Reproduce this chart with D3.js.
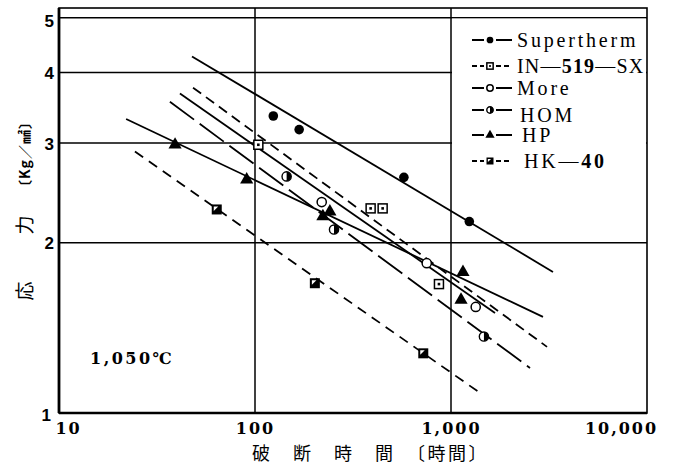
<!DOCTYPE html>
<html>
<head>
<meta charset="utf-8">
<script src="https://cdn.jsdelivr.net/npm/d3@7"></script>
<style>
  body { margin: 0; background: #fff; }
  svg { display: block; }
</style>
</head>
<body>
<svg width="674" height="468"></svg>
<script>
// rupture stress vs rupture time, 1,050 C
var xTickVals = [10, 100, 1000, 10000];
var xTickText = ['10', '100', '1,000', '10,000'];
var yTickVals = [1, 2, 3, 4, 5];

var seriesNames = ['Supertherm', 'IN—519—SX', 'More', 'HOM', 'HP', 'HK—40'];

// measured points [hours, kg/mm2]
var superthermPts = [[124, 3.35], [168, 3.17], [575, 2.61], [1240, 2.18]];
var in519Pts = [[104, 2.98], [389, 2.30], [448, 2.30], [868, 1.69]];
var morePts = [[219, 2.36], [752, 1.84], [1337, 1.54]];
var homPts = [[145, 2.62], [253, 2.11], [1472, 1.365]];
var hpPts = [[39.1, 2.98], [90.7, 2.585], [222, 2.226], [241, 2.27], [1151, 1.774], [1125, 1.585]];
var hk40Pts = [[63.8, 2.29], [202, 1.696], [722, 1.275]];

// fitted lines, end points
var superthermFit = [[47.7, 4.27], [3314, 1.776]];
var in519Fit = [[48.3, 3.76], [3090, 1.309]];
var moreFit = [[41.4, 3.67], [1677, 1.503]];
var homFit = [[36.8, 3.55], [2530, 1.201]];
var hpFit = [[22.0, 3.31], [2946, 1.479]];
var hk40Fit = [[24.4, 2.90], [1456, 1.076]];

var svg = d3.select('svg');
svg.append('rect').attr('width', 674).attr('height', 468).attr('fill', '#fff');

var x = d3.scaleLog().domain([10, 10000]).range([59, 647]);
var y = d3.scaleLog().domain([1, 5.2]).range([413, 8]);

var series = [
  { name: seriesNames[0], pts: superthermPts, fit: superthermFit, dash: null, legDash: null, mark: 'dot' },
  { name: seriesNames[1], pts: in519Pts, fit: in519Fit, dash: '10,6', legDash: '5,3', mark: 'sq' },
  { name: seriesNames[2], pts: morePts, fit: moreFit, dash: null, legDash: null, mark: 'ring' },
  { name: seriesNames[3], pts: homPts, fit: homFit, dash: '30,7', legDash: null, mark: 'half' },
  { name: seriesNames[4], pts: hpPts, fit: hpFit, dash: null, legDash: null, mark: 'tri' },
  { name: seriesNames[5], pts: hk40Pts, fit: hk40Fit, dash: '10,7', legDash: '5,3', mark: 'hk' }
];

// grid
var grid = svg.append('g').attr('stroke', '#000').attr('stroke-width', 1.5);
[100, 1000].forEach(function(v) {
  grid.append('line').attr('x1', x(v)).attr('x2', x(v)).attr('y1', y.range()[1]).attr('y2', y.range()[0]);
});
yTickVals.slice(1).forEach(function(v) {
  grid.append('line').attr('x1', x.range()[0]).attr('x2', x.range()[1]).attr('y1', y(v)).attr('y2', y(v));
});
// legend panel hides the grid inside it
svg.append('rect')
  .attr('x', x(1000) + 1).attr('y', y(5) + 1)
  .attr('width', x(10000) - x(1000) - 2).attr('height', y(2) - y(5) - 2)
  .attr('fill', '#fff');

// frame
svg.append('rect')
  .attr('x', x.range()[0]).attr('y', y.range()[1])
  .attr('width', x.range()[1] - x.range()[0]).attr('height', y.range()[0] - y.range()[1])
  .attr('fill', 'none').attr('stroke', '#000').attr('stroke-width', 1.6);
svg.append('line').attr('x1', x.range()[0]).attr('x2', x.range()[0])
  .attr('y1', y.range()[1]).attr('y2', y.range()[0]).attr('stroke', '#000').attr('stroke-width', 2.8);
svg.append('line').attr('x1', x.range()[0]).attr('x2', x.range()[1])
  .attr('y1', y.range()[0]).attr('y2', y.range()[0]).attr('stroke', '#000').attr('stroke-width', 2.4);

// fit lines
var line = d3.line().x(function(d) { return x(d[0]); }).y(function(d) { return y(d[1]); });
series.forEach(function(s) {
  svg.append('path').datum(s.fit)
    .attr('d', line)
    .attr('fill', 'none').attr('stroke', '#000').attr('stroke-width', 1.8)
    .attr('stroke-dasharray', s.dash);
});

function drawMark(g, type, k) {
  if (type === 'dot') {
    g.append('circle').attr('r', 4.8 * k).attr('fill', '#000');
  } else if (type === 'sq') {
    g.append('rect').attr('x', -4.5 * k).attr('y', -4.5 * k).attr('width', 9 * k).attr('height', 9 * k)
      .attr('fill', '#fff').attr('stroke', '#000').attr('stroke-width', 1.5);
    g.append('rect').attr('x', -1.3 * k).attr('y', -1.3 * k).attr('width', 2.6 * k).attr('height', 2.6 * k).attr('fill', '#000');
  } else if (type === 'ring') {
    g.append('circle').attr('r', 4.6 * k).attr('fill', '#fff').attr('stroke', '#000').attr('stroke-width', 1.5);
  } else if (type === 'half') {
    var r = 4.6 * k;
    g.append('circle').attr('r', r).attr('fill', '#fff').attr('stroke', '#000').attr('stroke-width', 1.4);
    g.append('path').attr('d', 'M0,' + (-r) + 'A' + r + ',' + r + ' 0 0,1 0,' + r + 'Z').attr('fill', '#000');
  } else if (type === 'tri') {
    g.append('path').attr('d', d3.symbol().type(d3.symbolTriangle).size(75 * k * k)).attr('fill', '#000');
  } else if (type === 'hk') {
    g.append('rect').attr('x', -5 * k).attr('y', -5 * k).attr('width', 10 * k).attr('height', 10 * k).attr('fill', '#000');
    g.append('path').attr('d', 'M' + (-3 * k) + ',' + (-3 * k) + 'L' + (1.5 * k) + ',' + (-3 * k) + 'L' + (-3 * k) + ',' + (1.5 * k) + 'Z')
      .attr('fill', '#fff');
  }
}

series.forEach(function(s) {
  s.pts.forEach(function(p) {
    var g = svg.append('g').attr('transform', 'translate(' + x(p[0]) + ',' + y(p[1]) + ')');
    drawMark(g, s.mark, 1);
  });
});

// axes (labels only)
var xAxis = svg.append('g')
  .attr('transform', 'translate(0,' + (y.range()[0] + 8) + ')')
  .call(d3.axisBottom(x).tickValues(xTickVals).tickSize(0).tickPadding(2)
    .tickFormat(function(d, i) { return xTickText[i]; }));
xAxis.select('.domain').remove();
xAxis.selectAll('text')
  .attr('font-family', '"DejaVu Serif", serif').attr('font-size', 16).attr('font-weight', 'bold')
  .attr('letter-spacing', 2).attr('fill', '#000')
  .attr('dx', function(d, i) { return i === 0 ? 9 : (i === 3 ? -26 : 0); });

var yAxis = svg.append('g')
  .attr('transform', 'translate(' + x.range()[0] + ',0)')
  .call(d3.axisLeft(y).tickValues(yTickVals).tickSize(0).tickPadding(5)
    .tickFormat(d3.format('d')));
yAxis.select('.domain').remove();
yAxis.selectAll('text')
  .attr('font-family', '"Liberation Sans", sans-serif').attr('font-size', 17).attr('font-weight', 'bold')
  .attr('fill', '#000')
  .attr('dx', function(d) { return d === 1 ? -3 : 0; })
  .attr('dy', function(d) { return d === 1 ? '0.45em' : (d === 5 ? '0.55em' : '0.35em'); });

// axis titles
svg.append('text')
  .attr('x', 252).attr('y', 460)
  .attr('font-family', '"Noto Sans CJK JP", sans-serif').attr('font-size', 18)
  .attr('letter-spacing', 2.5)
  .text('破　断　時　間　〔時間〕');

function vtext(cx, cy, str, size, weight, spacing) {
  svg.append('text')
    .attr('transform', 'translate(' + cx + ',' + cy + ') rotate(-90)')
    .attr('text-anchor', 'middle').attr('dy', '0.35em')
    .attr('font-family', '"Noto Sans CJK JP", sans-serif')
    .attr('font-size', size).attr('font-weight', weight)
    .attr('letter-spacing', spacing)
    .text(str);
}
vtext(25, 291, '応', 19, 'normal', 0);
vtext(25, 225, '力', 19, 'normal', 0);
vtext(25, 154, '〔Kg／㎟〕', 14, 'bold', 1);

svg.append('text')
  .attr('x', 90).attr('y', 364)
  .attr('font-family', '"DejaVu Serif", serif').attr('font-size', 16).attr('font-weight', 'bold')
  .attr('letter-spacing', 2.5)
  .text('1,050℃');

// legend
var leg = svg.append('g');
var legY = [40, 66, 88, 110, 135, 161];
var labelDy = [0, 0, 0, 5, 0, 0];
var labelDx = [0, 0, 0, 3, 5, 7];
var labelSpacing = [2.8, 1.2, 2.8, 2.8, 2.8, 2.8];
series.forEach(function(s, i) {
  var g = leg.append('g').attr('transform', 'translate(472,' + legY[i] + ')');
  g.append('line').attr('x1', 0).attr('x2', 12).attr('stroke', '#000').attr('stroke-width', 2)
    .attr('stroke-dasharray', s.legDash);
  g.append('line').attr('x1', 24).attr('x2', 40).attr('stroke', '#000').attr('stroke-width', 2)
    .attr('stroke-dasharray', s.legDash);
  var m = g.append('g').attr('transform', 'translate(18,0)');
  drawMark(m, s.mark, 0.7);
  var t = g.append('text')
    .attr('x', 45 + labelDx[i]).attr('y', labelDy[i]).attr('dy', '0.35em')
    .attr('font-family', '"Liberation Serif", serif').attr('font-size', 20)
    .attr('letter-spacing', labelSpacing[i]);
  s.name.split(/(\d+)/).forEach(function(part) {
    if (!part) return;
    t.append('tspan').attr('font-weight', /\d/.test(part) ? 'bold' : 'normal').text(part);
  });
});
</script>
</body>
</html>
